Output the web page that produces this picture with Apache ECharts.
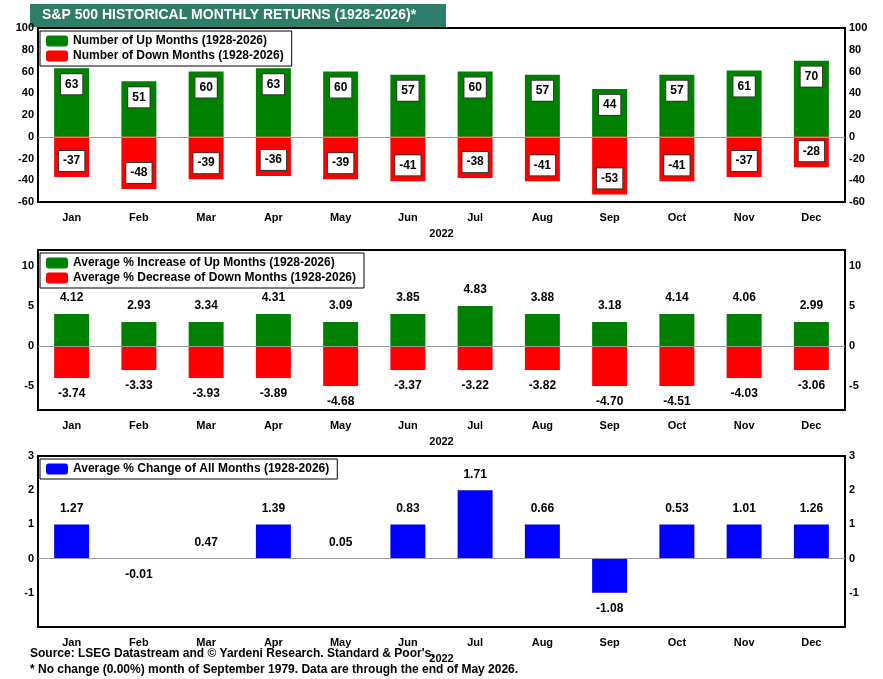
<!DOCTYPE html>
<html><head><meta charset="utf-8">
<script src="https://cdn.jsdelivr.net/npm/echarts@6/dist/echarts.min.js"></script>
<style>html,body{margin:0;padding:0;background:#fff}#c{width:883px;height:679px}</style>
</head><body><div id="c"></div>
<script>
const months = ["Jan","Feb","Mar","Apr","May","Jun","Jul","Aug","Sep","Oct","Nov","Dec"];
const upMonths = [63, 51, 60, 63, 60, 57, 60, 57, 44, 57, 61, 70];
const downMonths = [-37, -48, -39, -36, -39, -41, -38, -41, -53, -41, -37, -28];
// labels carry the exact values; the bars in the reference are drawn at rounded heights
const avgUpLabels = [4.12, 2.93, 3.34, 4.31, 3.09, 3.85, 4.83, 3.88, 3.18, 4.14, 4.06, 2.99];
const avgUpBars = [4, 3, 3, 4, 3, 4, 5, 4, 3, 4, 4, 3];
const avgDownLabels = [-3.74, -3.33, -3.93, -3.89, -4.68, -3.37, -3.22, -3.82, -4.70, -4.51, -4.03, -3.06];
const avgDownBars = [-4, -3, -4, -4, -5, -3, -3, -3, -5, -5, -4, -3];
const avgAllLabels = [1.27, -0.01, 0.47, 1.39, 0.05, 0.83, 1.71, 0.66, -1.08, 0.53, 1.01, 1.26];
const avgAllBars = [1, 0, 0, 1, 0, 1, 2, 1, -1, 1, 1, 1];

const FONT = "Liberation Sans Narrow, Arial Narrow, Liberation Sans, sans-serif";
const GREEN = "#008000", RED = "#ff0000", BLUE = "#0000ff";

const chart = echarts.init(document.getElementById("c"), null, {renderer: "canvas"});

const grids = [
  {left: 38, right: 38, top: 28, height: 174},
  {left: 38, right: 38, top: 250, height: 160},
  {left: 38, right: 38, top: 456, height: 171}
].map(g => Object.assign(g, {show: true, borderColor: "#000", borderWidth: 2, backgroundColor: "#fff"}));

const xAxes = grids.map((g, i) => ({
  type: "category", gridIndex: i, data: months,
  name: "2022", nameLocation: "middle", nameGap: 26,
  nameTextStyle: {fontFamily: FONT, fontSize: 11, fontWeight: "bold", color: "#000"},
  axisLine: {show: false}, axisTick: {show: false},
  axisLabel: {fontFamily: FONT, fontSize: 11, fontWeight: "bold", color: "#000", margin: 10}
}));

const yDefs = [
  {min: -60, max: 100, interval: 20, show: v => true},
  {min: -8, max: 12, interval: 1, show: v => v % 5 === 0},
  {min: -2, max: 3, interval: 1, show: v => v > -2}
];
const yAxes = [];
yDefs.forEach((d, i) => {
  ["left", "right"].forEach(pos => {
    yAxes.push({
      type: "value", gridIndex: i, position: pos, min: d.min, max: d.max, interval: d.interval,
      splitLine: {show: false}, axisLine: {show: false},
      axisTick: {show: false},
      axisLabel: {fontFamily: FONT, fontSize: 11, fontWeight: "bold", color: "#000", margin: 4,
        formatter: v => d.show(v) ? String(v) : ""}
    });
  });
});

const zeroLine = {silent: true, symbol: "none", label: {show: false},
  lineStyle: {color: "#999", width: 1, type: "solid"}, data: [{yAxis: 0}]};

const boxLabel = (pos) => ({
  show: true, position: pos, distance: 6, fontFamily: FONT, fontSize: 12, fontWeight: "bold", color: "#000",
  backgroundColor: "#fff", borderColor: "#333", borderWidth: 1, padding: [4, 4]
});
const plainLabel = (pos, arr) => ({
  show: true, position: pos, distance: 10, fontFamily: FONT, fontSize: 12, fontWeight: "bold", color: "#000",
  formatter: p => arr[p.dataIndex].toFixed(2)
});

const series = [
  {name: "Number of Up Months (1928-2026)", type: "bar", xAxisIndex: 0, yAxisIndex: 0,
   data: upMonths, barWidth: "52%", barGap: "-100%", itemStyle: {color: GREEN}, label: boxLabel("insideTop"),
   markLine: zeroLine},
  {name: "Number of Down Months (1928-2026)", type: "bar", xAxisIndex: 0, yAxisIndex: 0,
   data: downMonths, barWidth: "52%", barGap: "-100%", itemStyle: {color: RED}, label: boxLabel("insideBottom")},
  {name: "Average % Increase of Up Months (1928-2026)", type: "bar", xAxisIndex: 1, yAxisIndex: 2,
   data: avgUpBars, barWidth: "52%", barGap: "-100%", itemStyle: {color: GREEN},
   label: plainLabel("top", avgUpLabels), markLine: zeroLine},
  {name: "Average % Decrease of Down Months (1928-2026)", type: "bar", xAxisIndex: 1, yAxisIndex: 2,
   data: avgDownBars, barWidth: "52%", barGap: "-100%", itemStyle: {color: RED},
   label: plainLabel("bottom", avgDownLabels)},
  {name: "Average % Change of All Months (1928-2026)", type: "bar", xAxisIndex: 2, yAxisIndex: 4,
   data: avgAllBars.map((b, i) => ({value: b,
     label: {position: avgAllLabels[i] < 0 ? "bottom" : "top"}})),
   barWidth: "52%", itemStyle: {color: BLUE},
   label: plainLabel("top", avgAllLabels), markLine: zeroLine}
];

const legendBase = {orient: "vertical", left: 40, itemWidth: 22, itemHeight: 11, itemGap: 3,
  backgroundColor: "#fff", borderColor: "#000", borderWidth: 1, padding: [4, 8, 4, 6],
  textStyle: {fontFamily: FONT, fontSize: 12, fontWeight: "bold", color: "#000"}, selectedMode: false};

const option = {
  animation: false,
  grid: grids, xAxis: xAxes, yAxis: yAxes, series,
  legend: [
    Object.assign({}, legendBase, {top: 31, data: [series[0].name, series[1].name]}),
    Object.assign({}, legendBase, {top: 253, data: [series[2].name, series[3].name]}),
    Object.assign({}, legendBase, {top: 459, data: [series[4].name]})
  ],
  graphic: [
    {type: "rect", left: 30, top: 4, shape: {width: 416, height: 23}, style: {fill: "#2e7d6a"}},
    {type: "text", left: 42, top: 8, style: {text: "S&P 500 HISTORICAL MONTHLY RETURNS (1928-2026)*",
      fill: "#fff", font: "bold 14px " + FONT}},
    {type: "text", left: 30, top: 648, style: {text: "Source: LSEG Datastream and \u00A9 Yardeni Research. Standard & Poor's.",
      fill: "#000", font: "bold 12px " + FONT}},
    {type: "text", left: 30, top: 664, style: {text: "* No change (0.00%) month of September 1979. Data are through the end of May 2026.",
      fill: "#000", font: "bold 12px " + FONT}}
  ]
};
chart.setOption(option);
window.addEventListener("resize", chart.resize);
</script></body></html>
